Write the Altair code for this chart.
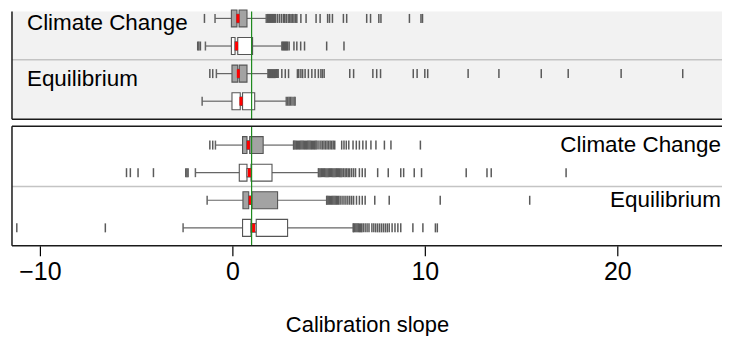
import altair as alt
import pandas as pd

# ---------------- data ----------------
groups = ["Climate Change", "Equilibrium"]
methods = ["Method 1", "Method 2"]          # grey boxes, white boxes
ref_slope = 1.0
x_ticks = [-10, 0, 10, 20]

# top panel: rows = CC/M1, CC/M2, Eq/M1, Eq/M2
top_wlo = [-0.9, -1.4, -0.83, -1.57]
top_q1 = [-0.05, -0.05, -0.02, -0.02]
top_nlo = [0.24, 0.14, 0.28, 0.41]
top_med = [0.29, 0.22, 0.31, 0.45]
top_nhi = [0.35, 0.28, 0.36, 0.53]
top_q3 = [0.76, 1.05, 0.76, 1.16]
top_whi = [1.76, 2.57, 1.85, 2.8]
top_out_1 = [-1.45, 1.83, 1.88, 1.93, 1.98, 2.03, 2.08, 2.13, 2.18, 2.25, 2.35, 2.45, 2.55,
             2.65, 2.72, 2.8, 2.9, 2.98, 3.05, 3.12, 3.2, 3.28, 3.35, 3.56, 3.83, 4.35, 4.56,
             4.95, 5.05, 5.2, 5.77, 5.94, 6.98, 7.18, 7.61, 7.72, 9.2, 9.8, 9.88]
top_out_2 = [-1.8, -1.74, -1.66, 2.62, 2.67, 2.72, 2.77, 2.82, 2.87, 2.95, 3.2, 3.35, 3.55,
             3.75, 4.9, 5.8]
top_out_3 = [-1.17, -1.02, 1.88, 1.93, 1.98, 2.03, 2.08, 2.13, 2.18, 2.23, 2.28, 2.33, 2.38,
             2.57, 2.75, 2.92, 3.38, 3.45, 3.56, 3.65, 3.78, 3.95, 4.13, 4.3, 4.47, 4.6, 4.68,
             4.77, 6.1, 6.3, 7.3, 7.5, 7.7, 9.4, 9.6, 10.0, 10.15, 12.25, 13.85, 16.05, 17.45,
             20.2, 23.4]
top_out_4 = [2.88, 2.95, 3.02, 3.1, 3.2, 3.26]

# bottom panel
bot_wlo = [-0.88, -1.92, -1.31, -2.56]
bot_q1 = [0.53, 0.36, 0.55, 0.53]
bot_nlo = [0.76, 0.76, 0.85, 0.97]
bot_med = [0.83, 0.88, 0.93, 1.1]
bot_nhi = [0.9, 0.97, 1.02, 1.24]
bot_q3 = [1.6, 2.06, 2.35, 2.87]
bot_whi = [3.18, 4.47, 4.9, 6.28]
bot_out_1 = [-1.17, -1.02, 3.2, 3.26, 3.32, 3.38, 3.44, 3.5, 3.56, 3.62, 3.68, 3.74, 3.8, 3.86,
             3.92, 3.98, 4.04, 4.1, 4.16, 4.22, 4.28, 4.34, 4.4, 4.5, 4.6, 4.68, 4.76, 4.84,
             4.92, 5.0, 5.08, 5.16, 5.24, 5.32, 5.68, 5.8, 5.92, 6.05, 6.27, 6.44, 6.6, 6.78,
             6.95, 7.2, 7.46, 7.9, 8.24, 9.77]
bot_out_2 = [-5.5, -5.3, -4.9, -4.1, -2.42, -2.36, -2.3, 4.5, 4.56, 4.62, 4.68, 4.74, 4.8,
             4.86, 4.92, 4.98, 5.04, 5.1, 5.16, 5.22, 5.28, 5.34, 5.4, 5.46, 5.52, 5.58, 5.64,
             5.7, 5.78, 5.86, 5.94, 6.02, 6.1, 6.2, 6.3, 6.4, 6.6, 6.75, 6.9, 7.55, 8.1, 8.75,
             8.9, 9.45, 9.83, 12.15, 13.23, 13.45, 17.34]
bot_out_3 = [4.92, 4.98, 5.04, 5.1, 5.16, 5.22, 5.28, 5.34, 5.4, 5.46, 5.52, 5.6, 5.7, 5.8,
             5.9, 6.0, 6.1, 6.2, 6.3, 6.45, 6.6, 6.75, 6.9, 7.4, 8.15, 10.8, 15.45]
bot_out_4 = [-11.2, -6.6, 6.3, 6.36, 6.42, 6.48, 6.54, 6.6, 6.66, 6.72, 6.8, 6.9, 7.0, 7.1,
             7.25, 7.35, 7.45, 7.55, 7.65, 7.75, 7.85, 7.95, 8.05, 8.15, 8.3, 8.45, 8.6, 8.75,
             9.38, 9.9, 10.55, 10.65]

# ---------------- layout / style ----------------
FONT = "Liberation Sans"
PX_PER_UNIT = 19.3
W = 712
TOP_H = 108
BOT_H = 120
PX_PER_ROW = 27.67
H = 0.307          # box half height in row units
TK = 0.163         # outlier tick / staple half height in row units
X_DOM = [-11.45, -11.45 + W / PX_PER_UNIT]
xs = alt.Scale(domain=X_DOM, nice=False, zero=False)
fill_scale = alt.Scale(domain=methods, range=["#a3a3a3", "#ffffff"])


def build_frames(wlo, q1, nlo, med, nhi, q3, whi, outs):
    box_rows, wh_rows, st_rows, out_rows, med_rows = [], [], [], [], []
    for r in range(4):
        kind = methods[r % 2]
        segs = [(q1[r], nlo[r], 1.0), (nlo[r], nhi[r], 0.5), (nhi[r], q3[r], 1.0)]
        for a, b, f in segs:
            box_rows.append({"a": a, "b": b, "y1": r - H * f, "y2": r + H * f, "kind": kind})
        wh_rows.append({"row": r, "a": wlo[r], "b": q1[r]})
        wh_rows.append({"row": r, "a": q3[r], "b": whi[r]})
        for v in (wlo[r], whi[r]):
            st_rows.append({"x": v, "y1": r - TK, "y2": r + TK})
        for v in outs[r]:
            out_rows.append({"x": v, "y1": r - TK, "y2": r + TK})
        med_rows.append({"x": med[r], "y1": r - H * 0.5, "y2": r + H * 0.5})
    return (pd.DataFrame(box_rows), pd.DataFrame(wh_rows), pd.DataFrame(st_rows),
            pd.DataFrame(out_rows), pd.DataFrame(med_rows))


def panel(stats, outs, height, ydom, bg, label_x, label_align, label_dy, xaxis, border):
    box_df, wh_df, st_df, out_df, med_df = build_frames(*stats, outs)
    ys = alt.Scale(domain=ydom, reverse=True, nice=False, zero=False)

    def X(f):
        return alt.X(f, scale=xs, axis=xaxis, title="Calibration slope")

    def Y(f):
        return alt.Y(f, scale=ys, axis=None)

    layers = []
    layers.append(
        alt.Chart(pd.DataFrame({"y": [1.5]})).mark_rule(color="#c4c4c4", strokeWidth=1.5)
        .encode(y=Y("y:Q"), x=alt.value(0), x2=alt.value(W))
    )
    layers.append(
        alt.Chart(wh_df).mark_rule(color="#666666", strokeWidth=1.2)
        .encode(x=X("a:Q"), x2="b:Q", y=Y("row:Q"))
    )
    layers.append(
        alt.Chart(st_df).mark_rule(color="#666666", strokeWidth=1.5)
        .encode(x=X("x:Q"), y=Y("y1:Q"), y2="y2:Q")
    )
    layers.append(
        alt.Chart(out_df).mark_rule(color="#5a5a5a", strokeWidth=1.5)
        .encode(x=X("x:Q"), y=Y("y1:Q"), y2="y2:Q")
    )
    layers.append(
        alt.Chart(box_df).mark_rect(stroke="#555555", strokeWidth=1.1, opacity=1)
        .encode(x=X("a:Q"), x2="b:Q", y=Y("y1:Q"), y2="y2:Q",
                fill=alt.Fill("kind:N", scale=fill_scale, legend=None))
    )
    layers.append(
        alt.Chart(med_df).mark_rule(color="#ff0000", strokeWidth=3)
        .encode(x=X("x:Q"), y=Y("y1:Q"), y2="y2:Q")
    )
    layers.append(
        alt.Chart(pd.DataFrame({"x": [ref_slope]})).mark_rule(color="#1f8a1f", strokeWidth=1.2)
        .encode(x=X("x:Q"))
    )
    lab_df = pd.DataFrame({"label": groups, "row": [0, 2]})
    layers.append(
        alt.Chart(lab_df).mark_text(align=label_align, baseline="middle", fontSize=22.5,
                                    font=FONT, color="black", dy=label_dy)
        .encode(x=alt.value(label_x), y=Y("row:Q"), text="label:N")
    )
    for b in border:
        layers.append(b)
    return alt.layer(*layers).properties(
        width=W, height=height,
        view=alt.ViewBackground(fill=bg, stroke=None),
    )


def hline(y):
    return (alt.Chart(pd.DataFrame({"v": [0]})).mark_rule(color="#1a1a1a", strokeWidth=1.5)
            .encode(x=alt.value(0), x2=alt.value(W), y=alt.value(y)))


def vline(h):
    return (alt.Chart(pd.DataFrame({"v": [0]})).mark_rule(color="#1a1a1a", strokeWidth=1.5)
            .encode(x=alt.value(0), y=alt.value(0), y2=alt.value(h)))


top_border = [vline(TOP_H), hline(TOP_H)]
bot_border = [vline(BOT_H), hline(BOT_H), hline(0)]

bottom_axis = alt.Axis(values=x_ticks, domain=False, grid=False, ticks=True, tickSize=10,
                       tickColor="black", tickWidth=1.2, labelFontSize=25, labelColor="black",
                       labelFont=FONT, labelPadding=4, titleFontSize=22, titleFont=FONT,
                       titleFontWeight="normal", titleColor="black", titlePadding=30)

top_start = -7 / PX_PER_ROW
top_dom = [top_start, top_start + TOP_H / PX_PER_ROW]
bot_dom = [-0.687, -0.687 + BOT_H / PX_PER_ROW]

top = panel((top_wlo, top_q1, top_nlo, top_med, top_nhi, top_q3, top_whi),
            [top_out_1, top_out_2, top_out_3, top_out_4], TOP_H, top_dom, "#f2f2f2",
            15, "left", 5, None, top_border)
bottom = panel((bot_wlo, bot_q1, bot_nlo, bot_med, bot_nhi, bot_q3, bot_whi),
               [bot_out_1, bot_out_2, bot_out_3, bot_out_4], BOT_H, bot_dom, "#ffffff",
               W - 1, "right", 0, bottom_axis, bot_border)

chart = (
    alt.vconcat(top, bottom, spacing=5)
    .resolve_scale(x="independent", y="independent", fill="shared")
    .properties(padding={"left": 3, "right": 0, "top": 0, "bottom": 0})
    .configure(font=FONT)
    .configure_view(stroke=None)
)

chart.save("out.html", embed_options={"renderer": "svg", "actions": False})
